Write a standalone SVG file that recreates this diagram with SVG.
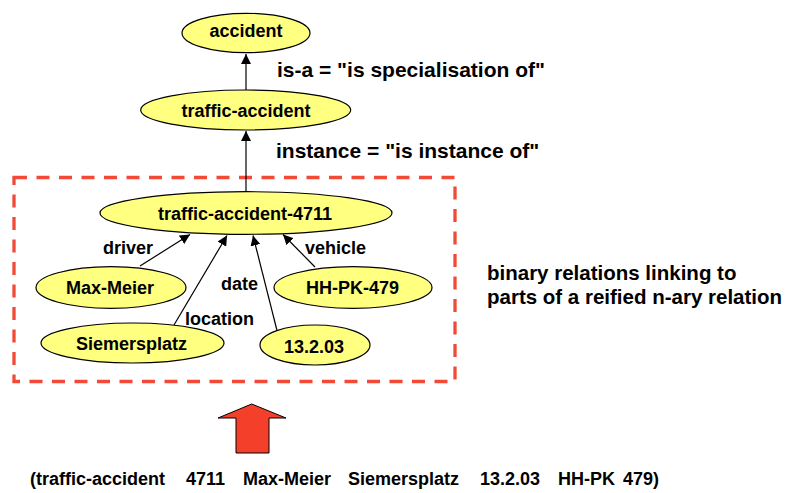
<svg xmlns="http://www.w3.org/2000/svg" width="795" height="493" viewBox="0 0 795 493">
<style>
text{font-family:"Liberation Sans",Arial,sans-serif;font-weight:bold;fill:#000}
.node ellipse{fill:#ffff80;stroke:#000;stroke-width:1.2}
.node text{font-size:18px;text-anchor:middle}
.edge{stroke:#000;stroke-width:1.2;fill:none;marker-end:url(#ah)}
.elabel{font-size:18px}
.big{font-size:21px}
</style>
<defs>
<marker id="ah" markerUnits="userSpaceOnUse" markerWidth="10" markerHeight="10" refX="10" refY="5" orient="auto" viewBox="0 0 10 10">
<path d="M0,0 L10,5 L0,10 z" fill="#000"/>
</marker>
</defs>
<rect x="14" y="177.5" width="441" height="204" fill="none" stroke="#f24a36" stroke-width="3.3" stroke-dasharray="13 9.5"/>
<g id="connectors">
<line class="edge" x1="246" y1="90" x2="246" y2="54"/>
<line class="edge" x1="246" y1="191.7" x2="246" y2="131"/>
<line class="edge" x1="140" y1="266" x2="190" y2="234.5"/>
<line class="edge" x1="174" y1="325" x2="227" y2="235.5"/>
<line class="edge" x1="277" y1="330.5" x2="253" y2="235.5"/>
<line class="edge" x1="315" y1="267" x2="283" y2="234.5"/>
<text class="elabel" x="103" y="254">driver</text>
<text class="elabel" x="305" y="254">vehicle</text>
<text class="elabel" x="221" y="289.5">date</text>
<text class="elabel" x="185" y="325">location</text>
<text class="big" x="277" y="77">is-a = "is specialisation of"</text>
<text class="big" x="276" y="158">instance = "is instance of"</text>
</g>
<g id="accident" class="node"><ellipse cx="246" cy="33" rx="64" ry="19.7"/><text x="246" y="37">accident</text></g>
<g id="traffic-accident" class="node"><ellipse cx="245.7" cy="110" rx="105" ry="20"/><text x="246" y="117">traffic-accident</text></g>
<g id="traffic-accident-4711" class="node"><ellipse cx="246" cy="213" rx="146" ry="21.3"/><text x="245" y="219.5">traffic-accident-4711</text></g>
<g id="max-meier" class="node"><ellipse cx="111" cy="287.5" rx="75" ry="20.8"/><text x="110" y="293.5">Max-Meier</text></g>
<g id="hh-pk-479" class="node"><ellipse cx="353" cy="287.5" rx="79" ry="20.8"/><text x="352.5" y="293.5">HH-PK-479</text></g>
<g id="siemersplatz" class="node"><ellipse cx="132.5" cy="343" rx="91.5" ry="20"/><text x="131.5" y="350">Siemersplatz</text></g>
<g id="date-node" class="node"><ellipse cx="315" cy="345" rx="55" ry="20"/><text x="314" y="352.5">13.2.03</text></g>
<text x="487" y="280" style="font-size:20.5px">binary relations linking to</text>
<text x="487" y="304" style="font-size:20.5px">parts of a reified n-ary relation</text>
<path d="M251.7,404 L286,418 L269,418 L269,453 L236,453 L236,418 L218,418 Z" fill="#f4402a" stroke="#000" stroke-width="1"/>
<text style="font-size:18px" y="485"><tspan x="30">(traffic-accident</tspan><tspan x="186">4711</tspan><tspan x="243">Max-Meier</tspan><tspan x="348">Siemersplatz</tspan><tspan x="480">13.2.03</tspan><tspan x="558">HH-PK</tspan><tspan x="623">479)</tspan></text>
</svg>
